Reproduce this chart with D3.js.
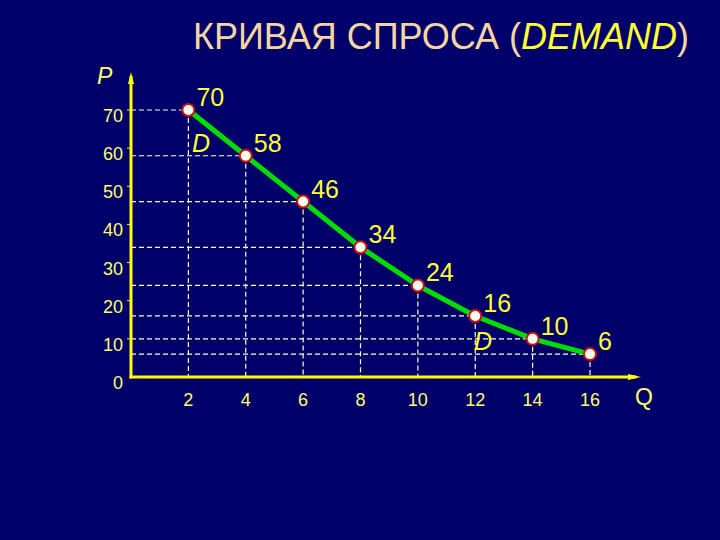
<!DOCTYPE html>
<html>
<head>
<meta charset="utf-8">
<script src="https://cdn.jsdelivr.net/npm/d3@7"></script>
<style>
  html, body { margin: 0; padding: 0; background: #00006b; }
  svg { display: block; }
</style>
</head>
<body>
<svg id="chart"></svg>
<script>
const width = 720;
const height = 540;

// data
const quantity = [2, 4, 6, 8, 10, 12, 14, 16];
const price = [70, 58, 46, 34, 24, 16, 10, 6];
const priceTicks = [0, 10, 20, 30, 40, 50, 60, 70];
const qtyTicks = [2, 4, 6, 8, 10, 12, 14, 16];

const points = quantity.map((q, i) => ({ q, p: price[i] }));

const svg = d3.select("#chart")
  .attr("width", width)
  .attr("height", height)
  .attr("viewBox", [0, 0, width, height])
  .style("font-family", "Liberation Sans, Arial, sans-serif");

svg.append("rect")
  .attr("width", width)
  .attr("height", height)
  .attr("fill", "#00006b");

// scales
const x = d3.scaleLinear([0, 16], [131, 590]);
const y = d3.scaleLinear([0, 70], [377, 110]);

// title
const title = svg.append("text")
  .attr("x", 193)
  .attr("y", 49)
  .attr("font-size", 36)
  .attr("fill", "#f5d6a2");
title.append("tspan").text("КРИВАЯ СПРОСА (");
title.append("tspan").attr("font-style", "italic").attr("fill", "#ffff33").text("DEMAND");
title.append("tspan").text(")");

// dashed guides
const guides = svg.append("g")
  .attr("stroke", "#ffffcc")
  .attr("stroke-width", 1.2)
  .attr("stroke-dasharray", "5,3");

guides.selectAll(".h")
  .data(points)
  .join("line")
  .attr("x1", x(0))
  .attr("x2", d => x(d.q))
  .attr("y1", d => y(d.p))
  .attr("y2", d => y(d.p));

guides.selectAll(".v")
  .data(points)
  .join("line")
  .attr("x1", d => x(d.q))
  .attr("x2", d => x(d.q))
  .attr("y1", d => y(d.p))
  .attr("y2", y(0));

// axes
const axisColor = "#ffff00";
svg.append("line")
  .attr("x1", x(0)).attr("x2", x(0))
  .attr("y1", y(0) + 1.5).attr("y2", 76)
  .attr("stroke", axisColor).attr("stroke-width", 3);
svg.append("path")
  .attr("d", `M${x(0) - 3},84 L${x(0)},72 L${x(0) + 3},84 Z`)
  .attr("fill", axisColor);

svg.append("line")
  .attr("x1", x(0) - 1.5).attr("x2", 636)
  .attr("y1", y(0)).attr("y2", y(0))
  .attr("stroke", axisColor).attr("stroke-width", 3);
svg.append("path")
  .attr("d", `M628,${y(0) - 3} L641,${y(0)} L628,${y(0) + 3} Z`)
  .attr("fill", axisColor);

// small ticks on the price axis
svg.append("g")
  .selectAll("line")
  .data(priceTicks.slice(1))
  .join("line")
  .attr("x1", x(0) - 4)
  .attr("x2", x(0))
  .attr("y1", d => y(d))
  .attr("y2", d => y(d))
  .attr("stroke", axisColor)
  .attr("stroke-width", 1);

// tick labels
svg.append("g")
  .attr("fill", "#ffff66")
  .attr("font-size", 18)
  .attr("text-anchor", "end")
  .selectAll("text")
  .data(priceTicks)
  .join("text")
  .attr("x", 123)
  .attr("y", d => y(d) + 12)
  .text(d => d);

svg.append("g")
  .attr("fill", "#ffff66")
  .attr("font-size", 18)
  .attr("text-anchor", "middle")
  .selectAll("text")
  .data(qtyTicks)
  .join("text")
  .attr("x", d => x(d))
  .attr("y", 406)
  .text(d => d);

// axis names
svg.append("text")
  .attr("x", 97).attr("y", 84)
  .attr("font-size", 23).attr("font-style", "italic")
  .attr("fill", "#ffff66")
  .text("P");
svg.append("text")
  .attr("x", 635).attr("y", 405)
  .attr("font-size", 23)
  .attr("fill", "#ffff66")
  .text("Q");

// demand curve
svg.append("path")
  .datum(points)
  .attr("fill", "none")
  .attr("stroke", "#00dd00")
  .attr("stroke-width", 5)
  .attr("stroke-linejoin", "round")
  .attr("d", d3.line().x(d => x(d.q)).y(d => y(d.p)));

svg.append("g")
  .selectAll("circle")
  .data(points)
  .join("circle")
  .attr("cx", d => x(d.q))
  .attr("cy", d => y(d.p))
  .attr("r", 6)
  .attr("fill", "#f4ffee")
  .attr("stroke", "#cc1111")
  .attr("stroke-width", 2);

// value labels
svg.append("g")
  .attr("fill", "#ffff33")
  .attr("font-size", 25)
  .selectAll("text")
  .data(points)
  .join("text")
  .attr("x", d => x(d.q) + 8)
  .attr("y", d => y(d.p) - 4)
  .text(d => d.p);

// D labels
svg.append("g")
  .attr("fill", "#ffff33")
  .attr("font-size", 25)
  .attr("font-style", "italic")
  .selectAll("text")
  .data([[192, 152], [474, 350]])
  .join("text")
  .attr("x", d => d[0])
  .attr("y", d => d[1])
  .text("D");
</script>
</body>
</html>
